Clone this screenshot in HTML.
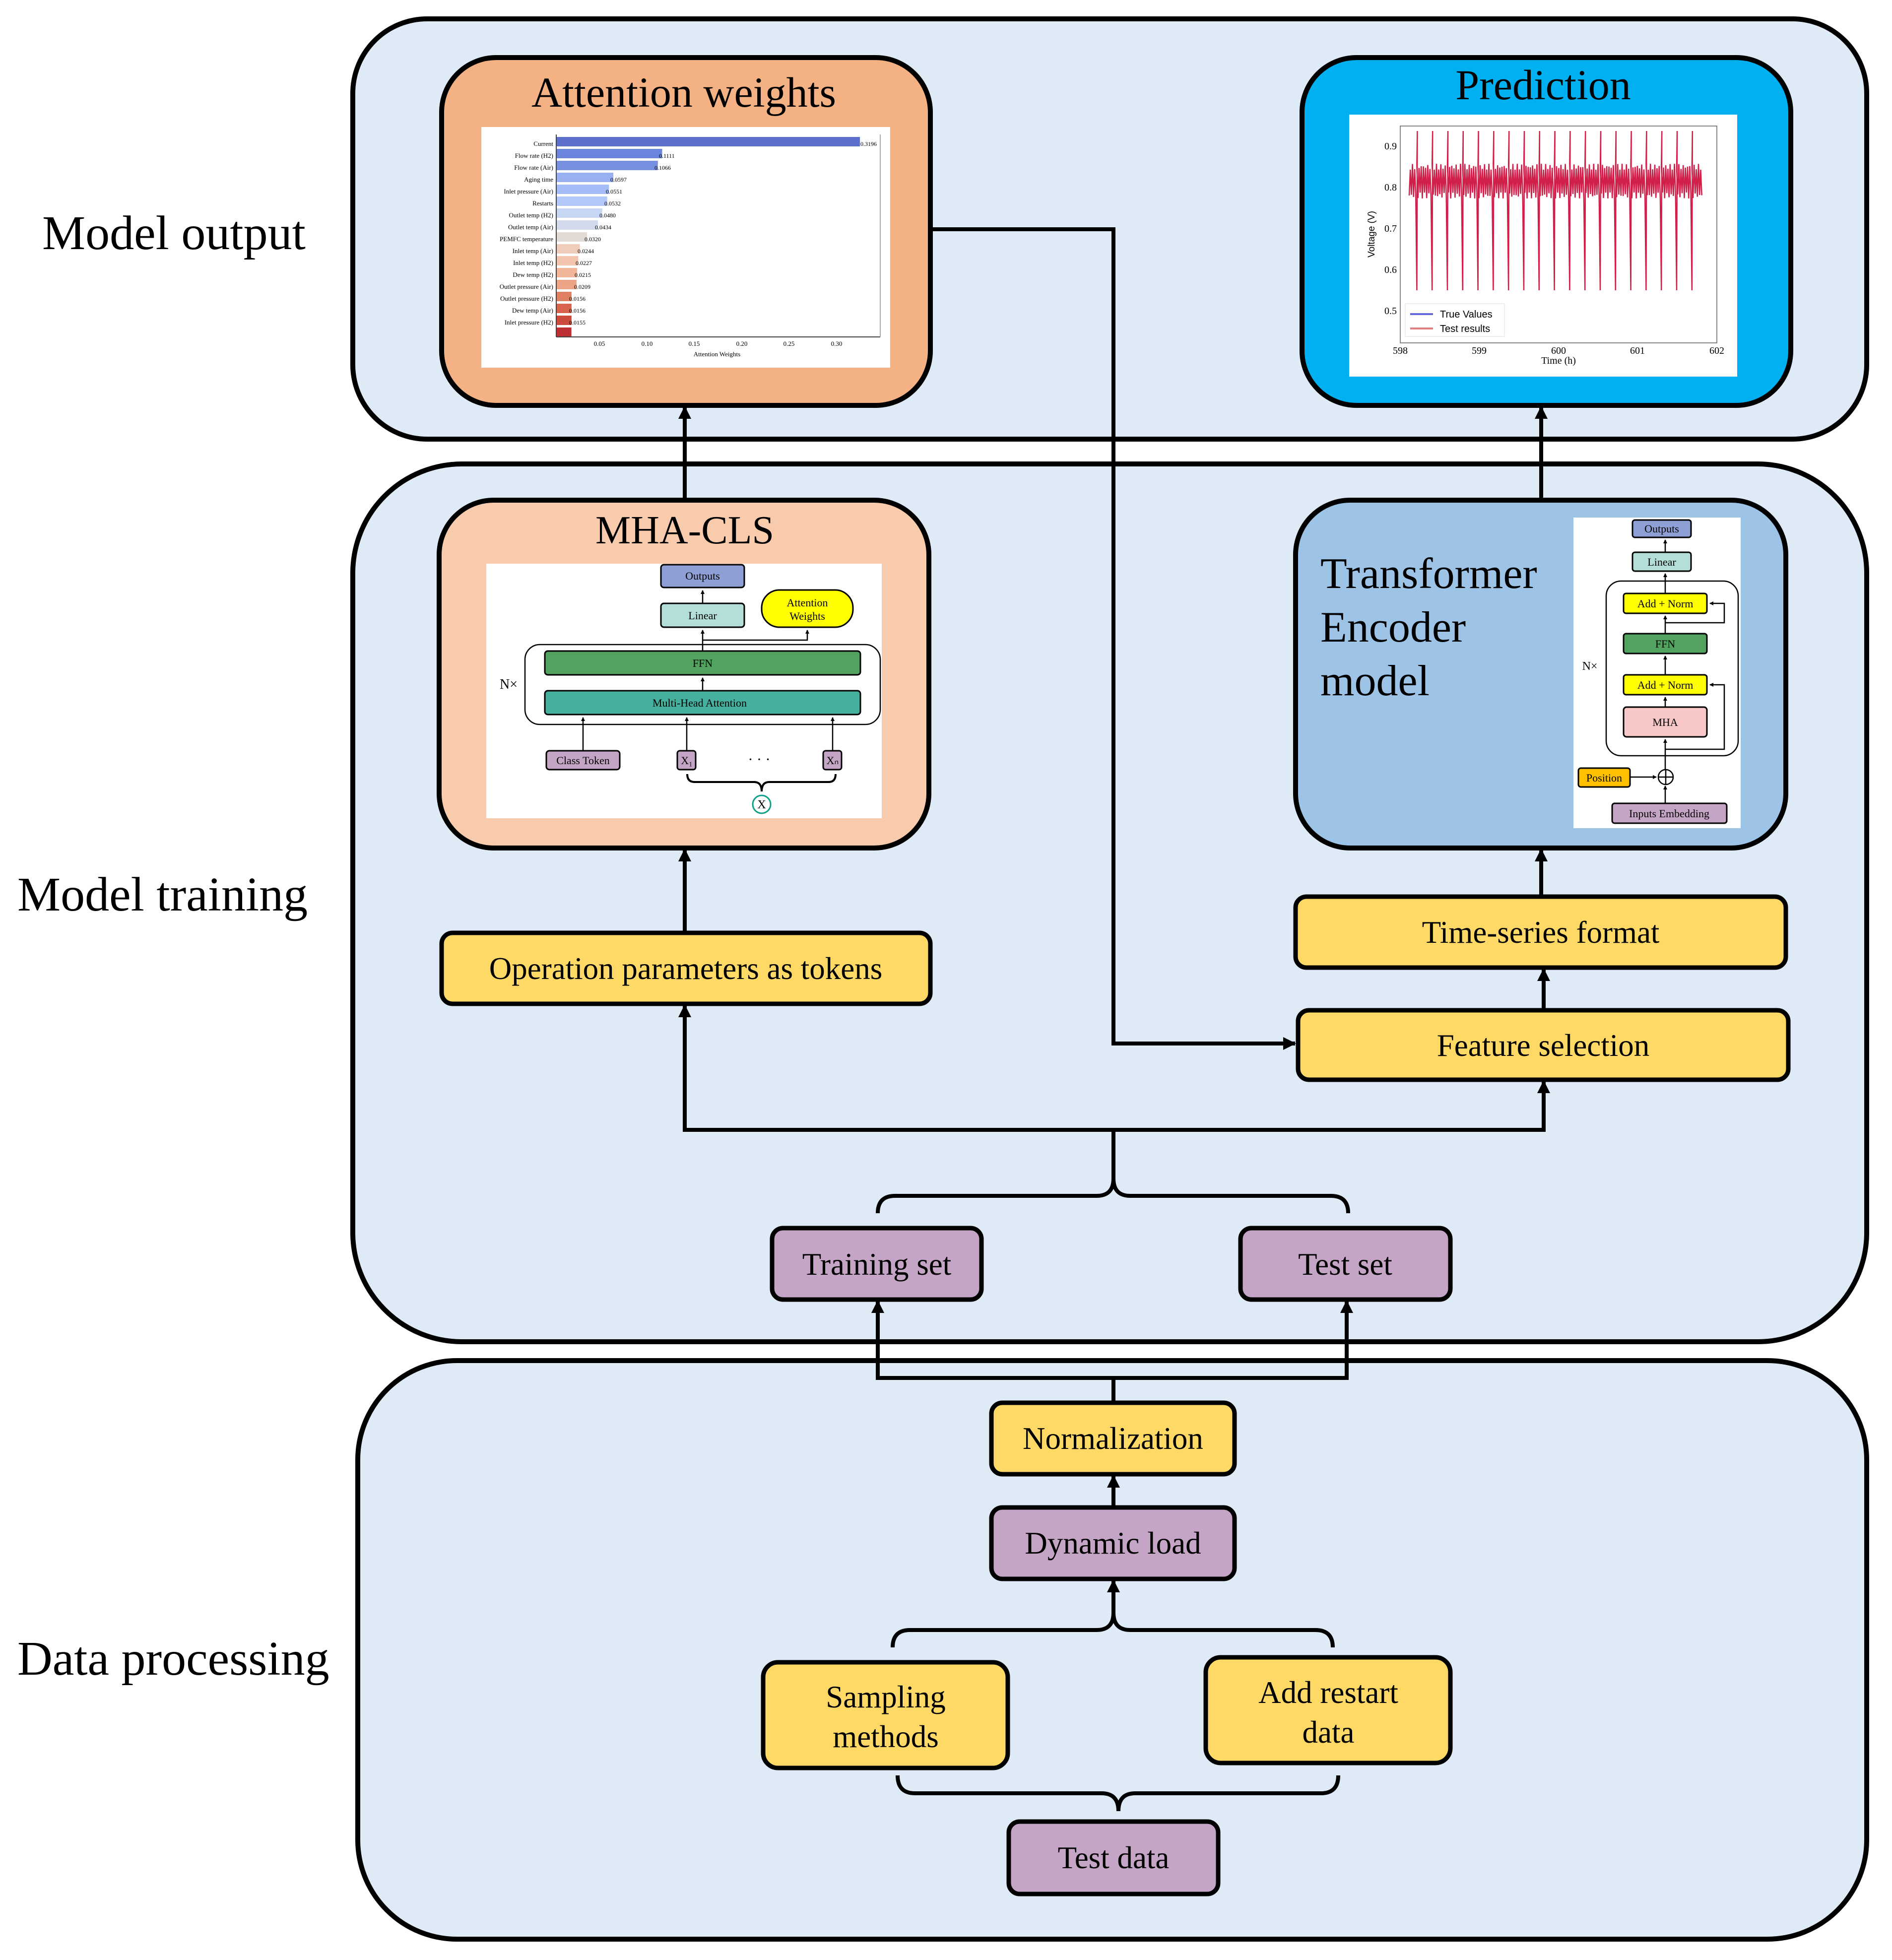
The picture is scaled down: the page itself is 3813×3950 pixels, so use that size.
<!DOCTYPE html>
<html><head><meta charset="utf-8"><style>
html,body{margin:0;padding:0;background:#fff}
svg{display:block}
text{font-family:"Liberation Serif",serif;fill:#000}
.s{font-family:"Liberation Sans",sans-serif}
</style></head><body>
<svg width="3813" height="3950" viewBox="0 0 3813 3950" xmlns="http://www.w3.org/2000/svg">
<defs>
<marker id="ar" markerWidth="26" markerHeight="30" refX="24" refY="15" orient="auto" markerUnits="userSpaceOnUse"><path d="M0,2 L26,15 L0,28 Z" fill="#000"/></marker>
<marker id="as" markerWidth="8" markerHeight="8" refX="7" refY="4" orient="auto" markerUnits="userSpaceOnUse"><path d="M0,0 L8,4 L0,8 Z" fill="#000"/></marker>
</defs>

<rect x="711" y="38" width="3051" height="847" rx="150" fill="#deeaf6" stroke="#000" stroke-width="10"/>
<rect x="711" y="935" width="3051" height="1769" rx="220" fill="#deeaf6" stroke="#000" stroke-width="10"/>
<rect x="721" y="2742" width="3041" height="1166" rx="200" fill="#deeaf6" stroke="#000" stroke-width="10"/>

<text x="85" y="502" font-size="98">Model output</text>
<text x="35" y="1835" font-size="98">Model training</text>
<text x="35" y="3375" font-size="98">Data processing</text>

<rect x="890" y="116" width="985" height="701" rx="110" fill="#f4b183" stroke="#000" stroke-width="10"/>
<text x="1378" y="215" font-size="86" text-anchor="middle">Attention weights</text>
<rect x="970" y="256" width="824" height="485" fill="#fff"/>
<g id="bars"></g>
<line x1="1121" y1="271" x2="1121" y2="679" stroke="#444" stroke-width="2"/>
<line x1="1121" y1="679" x2="1774" y2="679" stroke="#444" stroke-width="2"/>
<line x1="1774" y1="271" x2="1774" y2="679" stroke="#aaa" stroke-width="2"/>
<g font-size="13" text-anchor="end">
<text x="1115" y="294">Current</text><text x="1115" y="318">Flow rate (H2)</text><text x="1115" y="342">Flow rate (Air)</text><text x="1115" y="366">Aging time</text><text x="1115" y="390">Inlet pressure (Air)</text><text x="1115" y="414">Restarts</text><text x="1115" y="438">Outlet temp (H2)</text><text x="1115" y="462">Outlet temp (Air)</text><text x="1115" y="486">PEMFC temperature</text><text x="1115" y="510">Inlet temp (Air)</text><text x="1115" y="534">Inlet temp (H2)</text><text x="1115" y="558">Dew temp (H2)</text><text x="1115" y="582">Outlet pressure (Air)</text><text x="1115" y="606">Outlet pressure (H2)</text><text x="1115" y="630">Dew temp (Air)</text><text x="1115" y="654">Inlet pressure (H2)</text>
</g>
<g font-size="12">
<text x="1734" y="294">0.3196</text><text x="1328" y="318">0.1111</text><text x="1319" y="342">0.1066</text><text x="1230" y="366">0.0597</text><text x="1221" y="390">0.0551</text><text x="1218" y="414">0.0532</text><text x="1208" y="438">0.0480</text><text x="1199" y="462">0.0434</text><text x="1178" y="486">0.0320</text><text x="1164" y="510">0.0244</text><text x="1160" y="534">0.0227</text><text x="1158" y="558">0.0215</text><text x="1157" y="582">0.0209</text><text x="1147" y="606">0.0156</text><text x="1147" y="630">0.0156</text><text x="1147" y="654">0.0155</text>
</g>
<g font-size="13" text-anchor="middle">
<text x="1208" y="697">0.05</text><text x="1304" y="697">0.10</text><text x="1399" y="697">0.15</text><text x="1495" y="697">0.20</text><text x="1590" y="697">0.25</text><text x="1686" y="697">0.30</text>
<text x="1445" y="718">Attention Weights</text>
</g>

<rect x="2624" y="116" width="985" height="701" rx="110" fill="#00b0f0" stroke="#000" stroke-width="10"/>
<text x="3110" y="200" font-size="86" text-anchor="middle">Prediction</text>
<rect x="2719" y="231" width="782" height="528" fill="#fff"/>
<rect x="2822" y="254" width="638" height="437" fill="none" stroke="#888" stroke-width="2"/>
<path id="pl" fill="none" stroke="#d0204a" stroke-width="2.5" d=""/>
<g class="s" font-size="20" text-anchor="end">
<text x="2815" y="301">0.9</text><text x="2815" y="384">0.8</text><text x="2815" y="467">0.7</text><text x="2815" y="550">0.6</text><text x="2815" y="633">0.5</text>
</g>
<text class="s" font-size="19" transform="translate(2770 472) rotate(-90)" text-anchor="middle">Voltage (V)</text>
<g class="s" font-size="20" text-anchor="middle">
<text x="2822" y="713">598</text><text x="2981" y="713">599</text><text x="3141" y="713">600</text><text x="3300" y="713">601</text><text x="3460" y="713">602</text>
<text x="3141" y="733">Time (h)</text>
</g>
<rect x="2832" y="612" width="200" height="66" fill="#fff" stroke="#ddd"/>
<line x1="2842" y1="633" x2="2888" y2="633" stroke="#6a6ae0" stroke-width="4"/>
<line x1="2842" y1="662" x2="2888" y2="662" stroke="#e08080" stroke-width="4"/>
<text class="s" x="2902" y="640" font-size="20">True Values</text>
<text class="s" x="2902" y="669" font-size="20">Test results</text>

<rect x="885" y="1008" width="987" height="701" rx="110" fill="#f8cbad" stroke="#000" stroke-width="10"/>
<text x="1380" y="1095" font-size="80" text-anchor="middle">MHA-CLS</text>
<rect x="980" y="1136" width="797" height="513" fill="#fff"/>
<g stroke="#000" stroke-width="3">
<rect x="1332" y="1138" width="168" height="46" rx="6" fill="#8e9fd5"/>
<rect x="1332" y="1216" width="168" height="48" rx="6" fill="#b4dfd9"/>
<rect x="1535" y="1189" width="184" height="75" rx="36" fill="#ffff00"/>
<rect x="1058" y="1299" width="716" height="161" rx="30" fill="none" stroke-width="2.5"/>
<rect x="1098" y="1312" width="636" height="48" rx="6" fill="#52a35f"/>
<rect x="1098" y="1392" width="636" height="48" rx="6" fill="#45b09e"/>
<rect x="1101" y="1513" width="148" height="38" rx="6" fill="#c5a5c5"/>
<rect x="1365" y="1513" width="37" height="38" rx="5" fill="#c5a5c5"/>
<rect x="1659" y="1513" width="37" height="38" rx="5" fill="#c5a5c5"/>
</g>
<g stroke="#000" stroke-width="2.5" fill="none">
<line x1="1416" y1="1216" x2="1416" y2="1190" marker-end="url(#as)"/>
<line x1="1416" y1="1312" x2="1416" y2="1270" marker-end="url(#as)"/>
<path d="M1416,1290 L1627,1290 L1627,1270" marker-end="url(#as)"/>
<line x1="1416" y1="1392" x2="1416" y2="1366" marker-end="url(#as)"/>
<line x1="1175" y1="1513" x2="1175" y2="1446" marker-end="url(#as)"/>
<line x1="1384" y1="1513" x2="1384" y2="1446" marker-end="url(#as)"/>
<line x1="1678" y1="1513" x2="1678" y2="1446" marker-end="url(#as)"/>
<path d="M1385,1560 Q1385,1576 1400,1576 L1520,1576 Q1535,1576 1535,1595 Q1535,1576 1550,1576 L1670,1576 Q1684,1576 1684,1560" stroke-width="4"/>
<circle cx="1535" cy="1621" r="18" stroke="#109e86" stroke-width="3"/>
</g>
<text x="1535" y="1629" font-size="24" text-anchor="middle">X</text>
<g font-size="22" text-anchor="middle">
<text x="1416" y="1168">Outputs</text><text x="1416" y="1248">Linear</text>
<text x="1627" y="1222">Attention</text><text x="1627" y="1249">Weights</text>
<text x="1416" y="1344">FFN</text><text x="1410" y="1424">Multi-Head Attention</text>
<text x="1175" y="1540">Class Token</text><text x="1384" y="1540">X₁</text><text x="1678" y="1540">Xₙ</text>
<text x="1530" y="1540" font-size="30">· · ·</text>
<text x="1025" y="1388" font-size="28">N×</text>
</g>

<rect x="2611" y="1008" width="988" height="701" rx="110" fill="#9dc3e6" stroke="#000" stroke-width="10"/>
<text x="2661" y="1185" font-size="88">Transformer</text>
<text x="2661" y="1293" font-size="88">Encoder</text>
<text x="2661" y="1401" font-size="88">model</text>
<rect x="3171" y="1043" width="337" height="626" fill="#fff"/>
<g stroke="#000" stroke-width="3">
<rect x="3290" y="1048" width="118" height="35" rx="5" fill="#8e9fd5"/>
<rect x="3290" y="1113" width="118" height="38" rx="5" fill="#b4dfd9"/>
<rect x="3237" y="1171" width="266" height="352" rx="30" fill="none" stroke-width="2.5"/>
<rect x="3272" y="1196" width="168" height="40" rx="5" fill="#ffff00"/>
<rect x="3272" y="1277" width="168" height="40" rx="5" fill="#52a35f"/>
<rect x="3272" y="1360" width="168" height="40" rx="5" fill="#ffff00"/>
<rect x="3272" y="1425" width="168" height="60" rx="6" fill="#f8c8c8"/>
<rect x="3181" y="1548" width="104" height="38" rx="5" fill="#ffc000"/>
<rect x="3249" y="1619" width="231" height="40" rx="5" fill="#c5a5c5"/>
</g>
<g stroke="#000" stroke-width="2.5" fill="none">
<line x1="3356" y1="1113" x2="3356" y2="1088" marker-end="url(#as)"/>
<line x1="3356" y1="1196" x2="3356" y2="1156" marker-end="url(#as)"/>
<line x1="3356" y1="1277" x2="3356" y2="1241" marker-end="url(#as)"/>
<line x1="3356" y1="1360" x2="3356" y2="1322" marker-end="url(#as)"/>
<line x1="3356" y1="1425" x2="3356" y2="1405" marker-end="url(#as)"/>
<line x1="3356" y1="1551" x2="3356" y2="1490" marker-end="url(#as)"/>
<path d="M3356,1255 L3475,1255 L3475,1216 L3446,1216" marker-end="url(#as)"/>
<path d="M3356,1510 L3475,1510 L3475,1380 L3446,1380" marker-end="url(#as)"/>
<line x1="3285" y1="1566" x2="3338" y2="1566" marker-end="url(#as)"/>
<line x1="3356" y1="1619" x2="3356" y2="1584" marker-end="url(#as)"/>
<circle cx="3357" cy="1566" r="15"/>
<line x1="3342" y1="1566" x2="3372" y2="1566"/><line x1="3357" y1="1551" x2="3357" y2="1581"/>
</g>
<g font-size="22" text-anchor="middle">
<text x="3349" y="1073">Outputs</text><text x="3349" y="1140">Linear</text>
<text x="3356" y="1224">Add + Norm</text><text x="3356" y="1305">FFN</text><text x="3356" y="1388">Add + Norm</text><text x="3356" y="1463">MHA</text>
<text x="3233" y="1575">Position</text><text x="3364" y="1647">Inputs Embedding</text>
<text x="3204" y="1350" font-size="24">N×</text>
</g>

<g stroke="#000" stroke-width="9">
<rect x="890" y="1880" width="985" height="143" rx="22" fill="#ffd966"/>
<rect x="2611" y="1807" width="988" height="143" rx="22" fill="#ffd966"/>
<rect x="2616" y="2036" width="988" height="140" rx="22" fill="#ffd966"/>
<rect x="1556" y="2475" width="422" height="144" rx="22" fill="#c5a5c5"/>
<rect x="2500" y="2475" width="423" height="144" rx="22" fill="#c5a5c5"/>
<rect x="1998" y="2827" width="490" height="144" rx="22" fill="#ffd966"/>
<rect x="1998" y="3038" width="490" height="144" rx="22" fill="#c5a5c5"/>
<rect x="1538" y="3350" width="493" height="213" rx="30" fill="#ffd966"/>
<rect x="2430" y="3340" width="493" height="213" rx="30" fill="#ffd966"/>
<rect x="2033" y="3671" width="422" height="146" rx="22" fill="#c5a5c5"/>
</g>
<g font-size="63" text-anchor="middle">
<text x="1382" y="1973">Operation parameters as tokens</text>
<text x="3105" y="1900">Time-series format</text>
<text x="3110" y="2128">Feature selection</text>
<text x="1767" y="2569">Training set</text>
<text x="2711" y="2569">Test set</text>
<text x="2243" y="2920">Normalization</text>
<text x="2243" y="3131">Dynamic load</text>
<text x="1785" y="3441">Sampling</text><text x="1785" y="3521">methods</text>
<text x="2677" y="3432">Add restart</text><text x="2677" y="3512">data</text>
<text x="2244" y="3765">Test data</text>
</g>

<g stroke="#000" stroke-width="8" fill="none">
<line x1="1380" y1="1880" x2="1380" y2="1712" marker-end="url(#ar)"/>
<line x1="1380" y1="1008" x2="1380" y2="820" marker-end="url(#ar)"/>
<line x1="3106" y1="1807" x2="3106" y2="1712" marker-end="url(#ar)"/>
<line x1="3106" y1="1008" x2="3106" y2="820" marker-end="url(#ar)"/>
<line x1="3111" y1="2036" x2="3111" y2="1953" marker-end="url(#ar)"/>
<path d="M1875,462 L2244,462 L2244,2103 L2610,2103" marker-end="url(#ar)"/>
<path d="M1380,2277 L3111,2277"/>
<line x1="1380" y1="2281" x2="1380" y2="2026" marker-end="url(#ar)"/>
<line x1="3111" y1="2281" x2="3111" y2="2179" marker-end="url(#ar)"/>
<line x1="2244" y1="2277" x2="2244" y2="2380"/>
<path d="M1769,2445 Q1769,2410 1804,2410 L2210,2410 Q2244,2410 2244,2375 Q2244,2410 2278,2410 L2682,2410 Q2717,2410 2717,2445"/>
<path d="M1769,2777 L2714,2777"/>
<line x1="1769" y1="2781" x2="1769" y2="2622" marker-end="url(#ar)"/>
<line x1="2714" y1="2781" x2="2714" y2="2622" marker-end="url(#ar)"/>
<line x1="2244" y1="2777" x2="2244" y2="2827"/>
<line x1="2244" y1="3038" x2="2244" y2="2974" marker-end="url(#ar)"/>
<path d="M1799,3320 Q1799,3285 1834,3285 L2210,3285 Q2244,3285 2244,3250 Q2244,3285 2278,3285 L2651,3285 Q2686,3285 2686,3320"/>
<line x1="2244" y1="3255" x2="2244" y2="3185" marker-end="url(#ar)"/>
<path d="M1809,3578 Q1809,3614 1844,3614 L2220,3614 Q2254,3614 2254,3650 Q2254,3614 2288,3614 L2662,3614 Q2697,3614 2697,3578"/>
</g>
</svg>
<script>
(function(){
var v=[0.3196,0.1111,0.1066,0.0597,0.0551,0.0532,0.0480,0.0434,0.0320,0.0244,0.0227,0.0215,0.0209,0.0156,0.0156,0.0156,0.0155];
var c=["#5b6fcb","#6b84dc","#7890e0","#98b1f2","#a5bdf6","#b2c8f8","#c7d6f4","#d2dbeb","#e2dad5","#f0cdbb","#f2c4ad","#f1b69a","#eda386","#e08063","#d7634c","#cc4a3d","#be2f33"];
var g=document.getElementById('bars'),s="";
for(var i=0;i<v.length;i++){s+='<rect x="1122" y="'+(276+i*24)+'" width="'+(v[i]*1912)+'" height="19" fill="'+c[i]+'"/>';}
g.innerHTML=s;
var d="",x=2840,k=0;
while(x<3430){var y=(k%2?336:394)+(Math.sin(k*1.7)*6);
if(k%14==7){d+=(d?"L":"M")+x+","+585+"L"+(x+1)+",264";}
d+=(d?"L":"M")+x+","+y.toFixed(1);x+=2.2;k++;}
document.getElementById('pl').setAttribute('d',d);
})();
</script>
</body></html>
